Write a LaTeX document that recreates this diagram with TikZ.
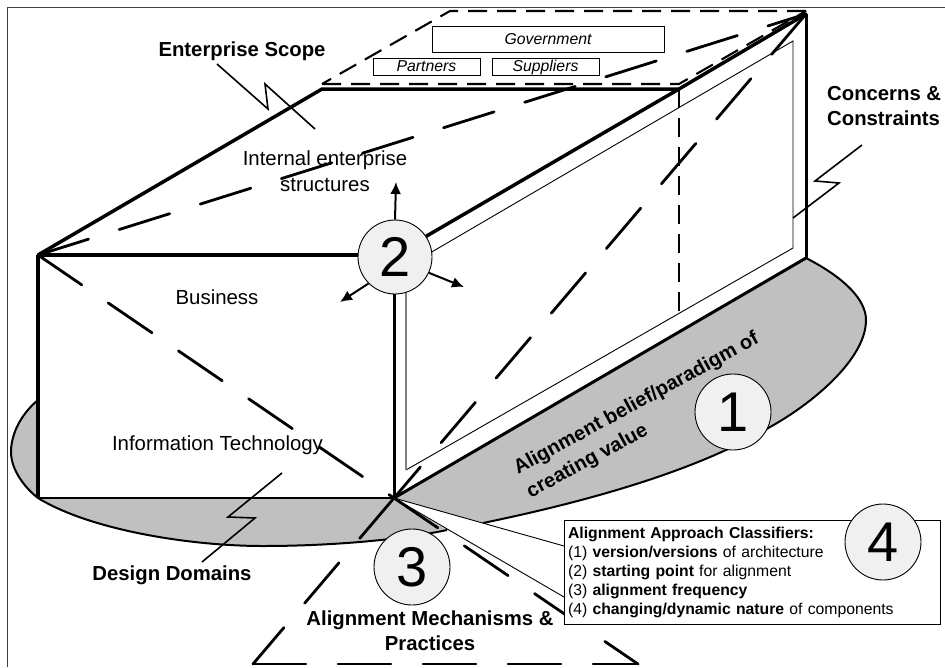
\documentclass[tikz,border=0pt]{standalone}
\usepackage{fontspec}
\setmainfont{Liberation Sans}
\usetikzlibrary{arrows.meta}
\definecolor{grayfill}{HTML}{C0C0C0}
\definecolor{circfill}{HTML}{F0F0F0}
\definecolor{framec}{HTML}{404040}
\tikzset{
  edgeline/.style={line width=3.5pt,line join=round},
  longdash/.style={line width=2.8pt,line cap=round,dash pattern=on 53pt off 32pt},
  shortdash/.style={line width=2.1pt,dash pattern=on 19pt off 10pt},
  thinline/.style={line width=0.9pt},
  zigzag/.style={line width=1.6pt,line join=miter},
  numcircle/.style={circle,draw=black,line width=0.9pt,fill=circfill,minimum size=76pt,inner sep=0pt,font=\fontsize{56}{56}\selectfont},
  plainlabel/.style={inner sep=0pt,align=center,font=\fontsize{20.4}{26}\selectfont},
  boldlabel/.style={inner sep=0pt,align=center,font=\fontsize{20.3}{25}\selectfont\bfseries},
  extbox/.style={draw=black,line width=0.9pt,fill=white,inner sep=0pt,text height=12.5pt,text depth=2pt,font=\fontsize{15.8}{15.8}\selectfont\itshape},
  outarrow/.style={line width=2pt,-{Latex[length=12pt,width=11pt]}},
}
\begin{document}
\begin{tikzpicture}[x=1pt,y=-1pt]
\useasboundingbox (0,0) rectangle (945,667);
% key corners
\coordinate (A) at (38,255);
\coordinate (B) at (394,255);
\coordinate (C) at (394,498);
\coordinate (D) at (38,498);
\coordinate (E) at (322,89);
\coordinate (F) at (679,89);
\coordinate (G) at (806,14);
\coordinate (H) at (806,258);
% frame
\draw[framec,line width=1.5pt] (7.5,667) -- (7.5,7.5) -- (945,7.5);
% grey regions
\fill[grayfill] (C) -- (H) .. controls (845,278) and (866,300) .. (866,320)
  .. controls (866,360) and (810,405) .. (770,427)
  .. controls (690,475) and (570,505) .. (483,523) -- cycle;
\draw[line width=2pt] (H) .. controls (845,278) and (866,300) .. (866,320)
  .. controls (866,360) and (810,405) .. (770,427)
  .. controls (690,475) and (570,505) .. (483,523);
\fill[grayfill] (C) -- (D) -- (38,400) .. controls (20,415) and (11,435) .. (11,452)
  .. controls (11,470) and (25,488) .. (38,498)
  .. controls (90,530) and (190,546) .. (263,546)
  .. controls (330,546) and (400,540) .. (447,530) -- cycle;
\draw[line width=2pt] (38,400) .. controls (20,415) and (11,435) .. (11,452)
  .. controls (11,470) and (25,488) .. (38,498)
  .. controls (90,530) and (190,546) .. (263,546)
  .. controls (330,546) and (400,540) .. (447,530);
% external boxes
\node[extbox,minimum width=232pt,minimum height=26pt] (gov) at (548,39) {Government};
\node[extbox,minimum width=107pt,minimum height=17pt] (par) at (426.5,66.5) {Partners};
\node[extbox,minimum width=107pt,minimum height=17pt] (sup) at (545.5,66.5) {Suppliers};
% top dashed parallelogram
\coordinate (P1) at (322,84);
\coordinate (P2) at (679,84);
\coordinate (P3) at (806,11);
\coordinate (P4) at (450,11);
\draw[shortdash] (P1) -- (P2) -- (P3);
\draw[shortdash] (P3) -- (P4) -- (P1);
% inner panel
\coordinate (I1) at (406,267);
\coordinate (I2) at (793,41);
\coordinate (I3) at (793,248);
\coordinate (I4) at (406,470);
\draw[thinline] (I1) -- (I2) -- (I3) -- (I4);
\draw[gray,line width=1.2pt] (I4) -- (I1);
% hidden vertical edge
\coordinate (F2) at (679,314);
\draw[line width=2pt,dash pattern=on 19pt off 10pt] (F) -- (F2);
% box edges
\draw[edgeline] (A) -- (E) -- (F) -- (G);
\draw[edgeline] (F) -- (B);
\draw[edgeline] (A) -- (B);
\draw[edgeline] (A) -- (D);
\draw[line width=3pt] (B) -- (C);
\draw[line width=3pt] (G) -- (H);
\draw[line width=3pt] (C) -- (H);
\draw[line width=1.5pt] (D) -- (C);
% long dashed diagonals
\draw[longdash] (A) -- (G);
\draw[longdash] (A) -- (C);
\draw[longdash] (G) -- (C);
\coordinate (T1) at (253,664);
\coordinate (T2) at (638,664);
\draw[longdash] (C) -- (T1);
\draw[longdash] (C) -- (T2);
\draw[longdash] (T1) -- (T2);
% thin lines to classifiers
\coordinate (L1) at (564,546);
\coordinate (L2) at (564,597);
\draw[thinline] (C) -- (L1);
\draw[thinline] (C) -- (L2);
% classifier box
\node[draw=black,line width=1pt,fill=white,minimum width=376pt,minimum height=104pt,text width=368pt,inner sep=4pt,align=left,font=\fontsize{15.75}{19}\selectfont] (legend) at (752,572.5)
 {\textbf{Alignment Approach Classifiers:}\\
  (1) \textbf{version/versions} of architecture\\
  (2) \textbf{starting point} for alignment\\
  (3) \textbf{alignment frequency}\\
  (4) \textbf{changing/dynamic nature} of components};
% zigzag callouts
\coordinate (Z1a) at (217,64);
\coordinate (Z1b) at (268,109);
\coordinate (Z1c) at (265,84);
\coordinate (Z1d) at (315,129);
\draw[zigzag] (Z1a) -- (Z1b) -- (Z1c) -- (Z1d);
\coordinate (Z2a) at (862,145);
\coordinate (Z2b) at (815,181);
\coordinate (Z2c) at (839,183);
\coordinate (Z2d) at (793,218);
\draw[zigzag] (Z2a) -- (Z2b) -- (Z2c) -- (Z2d);
\coordinate (Z3a) at (282,473);
\coordinate (Z3b) at (228,517);
\coordinate (Z3c) at (255,518);
\coordinate (Z3d) at (202,562);
\draw[zigzag] (Z3a) -- (Z3b) -- (Z3c) -- (Z3d);
% texts
\node[boldlabel] (scope) at (242,51.5) {Enterprise Scope};
\node[plainlabel] (internal) at (325,171) {Internal enterprise\\structures};
\node[plainlabel] (business) at (217,297) {Business};
\node[plainlabel] (it) at (217.5,445.5) {Information Technology};
\node[boldlabel] (domains) at (172,575) {Design Domains};
\node[boldlabel,align=left,anchor=west] (concerns) at (827,106) {Concerns \&\\Constraints};
\node[boldlabel] (mechanisms) at (430,630.5) {Alignment Mechanisms \&\\Practices};
\node[boldlabel,align=left,rotate=28.6,font=\fontsize{20}{27}\selectfont\bfseries] (belief) at (643,416) {Alignment belief/paradigm of\\creating value};
% numbered circles
\node[numcircle] (c1) at (733,412) {1};
\node[numcircle,minimum size=74pt] (c2) at (395,257) {2};
\node[numcircle] (c3) at (412,567) {3};
\node[numcircle] (c4) at (883,542) {4};
% arrows from circle 2
\coordinate (up) at (396,182);
\coordinate (dl) at (340,302);
\coordinate (dr) at (464,287);
\draw[outarrow] (c2.north) -- (up);
\draw[outarrow] (c2.225) -- (dl);
\draw[outarrow] (c2.-25) -- (dr);
\end{tikzpicture}
\end{document}
